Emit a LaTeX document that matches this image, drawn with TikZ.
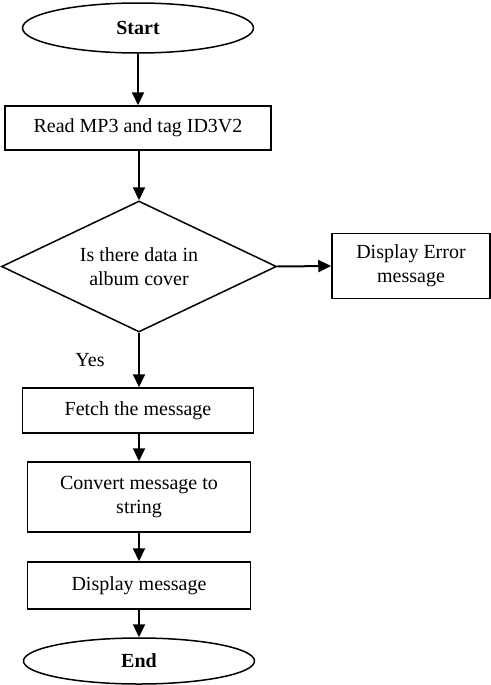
\documentclass[tikz,border=0pt]{standalone}
\usepackage{fontspec}
\setmainfont{Liberation Serif}
\usetikzlibrary{shapes.geometric,arrows.meta}

\tikzset{
  startstop/.style={draw, ellipse, line width=0.75pt, minimum width=115.5pt, inner sep=0pt},
  process/.style={draw, rectangle, line width=0.75pt, align=center, inner sep=0pt},
  decision/.style={draw, diamond, aspect=2.1, line width=0.75pt, align=center, inner sep=0pt,
    minimum width=137.5pt, minimum height=65.5pt},
  arrow/.style={line width=1pt, -{Triangle[length=6.5pt,width=6pt]}}
}

\begin{document}
\begin{tikzpicture}[x=0.5pt, y=-0.5pt, font=\fontsize{10}{12}\selectfont]
% Place nodes
\useasboundingbox (0,0) rectangle (491,685);

\node[startstop, minimum height=25pt] (start) at (138,28) {\textbf{Start}};
\node[process, minimum width=133pt, minimum height=22pt] (read) at (138,128) {Read MP3 and tag ID3V2};
\node[decision] (check) at (139,266.5) {Is there data in\\album cover};
\node[process, minimum width=79pt, minimum height=32.5pt] (error) at (411,266) {Display Error\\message};
\node (yes) at (90,360) {Yes};
\node[process, minimum width=115.5pt, minimum height=22.5pt] (fetch) at (138,410.5) {Fetch the message};
\node[process, minimum width=111.5pt, minimum height=35pt] (convert) at (139,497) {Convert message to\\string};
\node[process, minimum width=111.5pt, minimum height=23.5pt] (display) at (139,585.5) {Display message};
\node[startstop, minimum height=23pt] (end) at (139,661) {\textbf{End}};

% Connectors
\draw[arrow] (start) -- (read);
\draw[arrow] (read.south -| check.north) -- (check.north);
\draw[arrow] (check.east) -- (error.west);
\draw[arrow] (check.south) -- (check.south |- fetch.north);
\draw[arrow] (fetch.south -| convert.north) -- (convert.north);
\draw[arrow] (convert) -- (display);
\draw[arrow] (display.south) -- (display.south |- end.north);

\end{tikzpicture}
\end{document}
